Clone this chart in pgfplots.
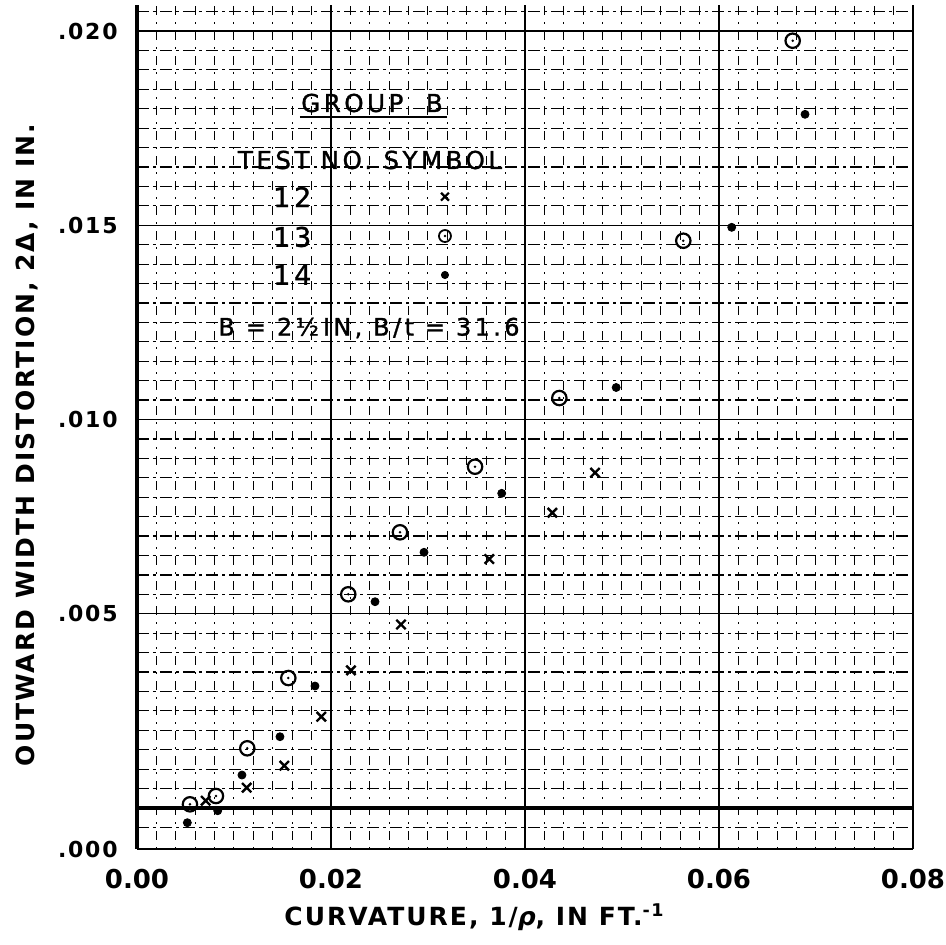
\documentclass[border=0pt]{standalone}
\usepackage{fontspec}
\setmainfont{DejaVu Sans}
\newfontfamily\lbl[LetterSpace=8]{DejaVu Sans}
\newfontfamily\ann[LetterSpace=14,FakeBold=1.2]{DejaVu Sans}
\usepackage{pgfplots}
\pgfplotsset{compat=1.18}

% circle with a centre dot, as drawn by hand on the original sheet
\pgfdeclareplotmark{odot}{%
  \pgfpathcircle{\pgfpointorigin}{\pgfplotmarksize}\pgfusepathqstroke
  \pgfpathcircle{\pgfpointorigin}{0.7pt}\pgfusepathqfill}

\begin{document}
\begin{tikzpicture}
\path[use as bounding box] (-68.5pt,-48pt) rectangle (404.5pt,424.5pt);
\begin{axis}[
  at={(0,0)}, anchor=south west,
  scale only axis, width=388pt, height=422pt,
  xmin=0, xmax=0.08, ymin=-0.001055, ymax=0.02067,
  separate axis lines, axis x line*=bottom, axis y line*=left,
  x axis line style={draw=none}, y axis line style={line width=1.6pt},
  scaled ticks=false, tick style={draw=none},
  xtick={0,0.02,0.04,0.06,0.08}, xticklabels={0.00,0.02,0.04,0.06,0.08},
  ytick={-0.001055,0.005,0.01,0.015,0.02}, yticklabels={.000,.005,.010,.015,.020},
  minor x tick num=9,
  xmajorgrids, ymajorgrids, xminorgrids,
  major grid style={black, line width=0.7pt},
  minor grid style={black, line width=0.5pt, dash pattern=on 1pt off 3.5pt on 4.5pt off 3.5pt},
  extra y ticks={-0.0005,0,...,0.0205}, extra y tick labels={},
  extra y tick style={grid=major, tick style={draw=none},
    major grid style={black, line width=0.6pt, dash pattern=on 6pt off 2pt on 1.5pt off 2pt}},
  xticklabel style={font=\bfseries\fontsize{13}{14}\selectfont, inner sep=0pt, yshift=-10pt},
  yticklabel style={font=\lbl\bfseries\fontsize{11}{13}\selectfont, inner sep=0pt, xshift=-9.5pt},
  xlabel={CURVATURE, 1/\textit{ρ}, IN FT.\textsuperscript{-1}},
  ylabel={OUTWARD WIDTH DISTORTION, 2Δ, IN IN.},
  xlabel style={at={(axis description cs:0.4349,-0.0806)}, anchor=center,
    font=\lbl\bfseries\fontsize{12.5}{14}\selectfont},
  ylabel style={at={(axis description cs:-0.1418,0.4787)}, anchor=center,
    font=\lbl\bfseries\fontsize{12.5}{14}\selectfont},
]
% heavy zero line
\addplot[black, line width=1.8pt, forget plot] coordinates {(0,0) (0.08,0)};

% test 12
\addplot[only marks, mark=x, mark size=3.3pt, mark options={line width=1.2pt}, black]
  coordinates {(0.00708,0.000188) (0.01131,0.000523) (0.01519,0.001089) (0.01900,0.00235)
  (0.02206,0.003544) (0.02722,0.004723) (0.03632,0.006409) (0.04282,0.007601) (0.04722,0.008631)};
% test 13
\addplot[only marks, mark=odot, mark size=3.6pt, mark options={line width=1.1pt, fill=black}, black]
  coordinates {(0.00546,0.000095) (0.00814,0.000309) (0.01137,0.001537) (0.0156,0.003346)
  (0.02178,0.005501) (0.02711,0.007097) (0.03485,0.008785) (0.04354,0.010553)
  (0.05632,0.014602) (0.0676,0.01975)};
% test 14
\addplot[only marks, mark=*, mark size=2pt, black]
  coordinates {(0.00519,-0.000378) (0.00832,-0.00007) (0.01082,0.000849) (0.01474,0.001835)
  (0.01835,0.00314) (0.02454,0.00531) (0.02959,0.006582) (0.0376,0.0081)
  (0.0494,0.010824) (0.06131,0.014947) (0.06887,0.017856)};

% symbols in the key
\addplot[only marks, mark=x, mark size=2.8pt, mark options={line width=1.1pt}, black]
  coordinates {(0.03175,0.015735)};
\addplot[only marks, mark=odot, mark size=3pt, mark options={line width=0.9pt, fill=black}, black]
  coordinates {(0.03175,0.014723)};
\addplot[only marks, mark=*, mark size=1.8pt, black]
  coordinates {(0.03175,0.01372)};

\node[font=\ann\fontsize{12.3}{14}\selectfont] at (axis cs:0.02423,0.018147) {GROUP\ \ B};
\draw[line width=1pt] (axis cs:0.0168,0.017786) -- (axis cs:0.0320,0.017786);
\node[font=\ann\fontsize{12.3}{14}\selectfont] at (axis cs:0.02402,0.01668) {TEST NO. SYMBOL};
\node[font=\ann\fontsize{13.5}{14}\selectfont, anchor=east] at (axis cs:0.0187,0.015727) {12};
\node[font=\ann\fontsize{13.5}{14}\selectfont, anchor=east] at (axis cs:0.0187,0.014698) {13};
\node[font=\ann\fontsize{13.5}{14}\selectfont, anchor=east] at (axis cs:0.0187,0.01372) {14};
\node[font=\ann\fontsize{12}{14}\selectfont] at (axis cs:0.02392,0.012355) {B = 2½\,IN,\ B/t = 31.6};
\end{axis}
\end{tikzpicture}
\end{document}
